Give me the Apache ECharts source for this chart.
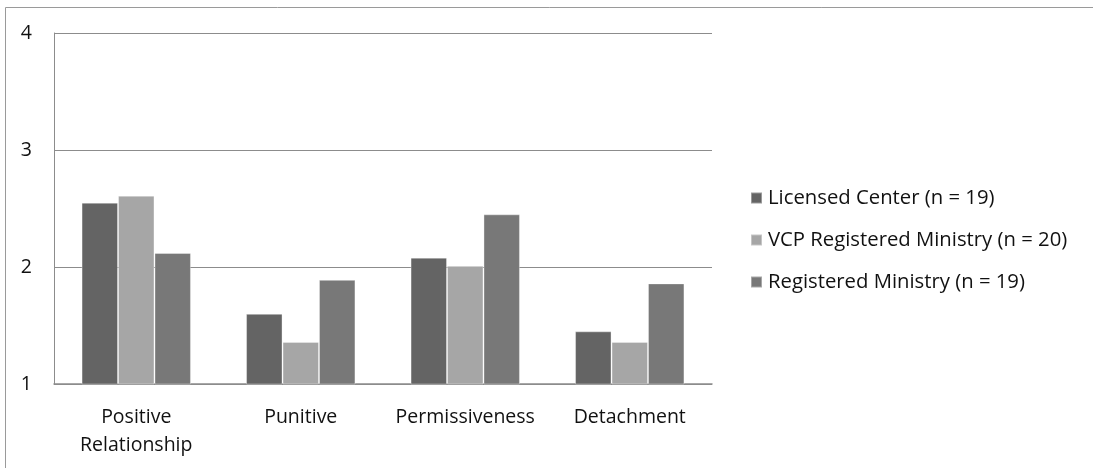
<!DOCTYPE html>
<html>
<head>
<meta charset="utf-8">
<script src="https://cdn.jsdelivr.net/npm/echarts@6/dist/echarts.min.js"></script>
<style>
  html, body { margin: 0; padding: 0; background: #fff; }
  #chart { width: 1093px; height: 468px; }
</style>
</head>
<body>
<div id="chart"></div>
<script>
// Mean scale scores by program type
const categories = ['Positive\nRelationship', 'Punitive', 'Permissiveness', 'Detachment'];
const licensedCenter = [2.55, 1.60, 2.08, 1.45];
const vcpRegisteredMinistry = [2.61, 1.36, 2.01, 1.36];
const registeredMinistry = [2.12, 1.89, 2.45, 1.86];
const seriesNames = ['Licensed Center (n = 19)', 'VCP Registered Ministry (n = 20)', 'Registered Ministry (n = 19)'];
const yTicks = { min: 1, max: 4, interval: 1 };

const FONT = '"Open Sans", "Noto Sans", sans-serif';
const TEXT = '#111';
const colors = ['#646464', '#a6a6a6', '#787878'];

const chart = echarts.init(document.getElementById('chart'), null, { renderer: 'canvas' });

function bar(name, data, color) {
  return {
    name, type: 'bar', data,
    barGap: '0%', barCategoryGap: '33.5%',
    itemStyle: { color, borderColor: 'rgba(255,255,255,0.35)', borderWidth: 1 }
  };
}

chart.setOption({
  animation: false,
  color: colors,
  textStyle: { fontFamily: FONT, color: TEXT },
  graphic: [{
    type: 'polyline',
    shape: { points: [[5.5, 468], [5.5, 7.5], [1093, 7.5]] },
    style: { stroke: '#9a9a9a', lineWidth: 1, fill: null }
  }],
  grid: { left: 54, right: 381, top: 33, bottom: 84, containLabel: false },
  legend: {
    orient: 'vertical', left: 750, top: 188, padding: 0,
    itemWidth: 11, itemHeight: 11, itemGap: 22,
    icon: 'rect',
    textStyle: { fontFamily: FONT, fontSize: 20.3, lineHeight: 20, color: TEXT, padding: [0, 0, 0, 1] },
    data: seriesNames
  },
  xAxis: {
    type: 'category', data: categories,
    axisLine: { lineStyle: { color: '#8c8c8c', width: 1.5 } },
    axisTick: { show: false },
    axisLabel: { interval: 0, fontFamily: FONT, fontSize: 19.5, color: TEXT, margin: 19, lineHeight: 28 }
  },
  yAxis: {
    type: 'value', min: yTicks.min, max: yTicks.max, interval: yTicks.interval,
    axisLine: { show: true, lineStyle: { color: '#8c8c8c', width: 1 } },
    axisTick: { show: false },
    splitLine: { lineStyle: { color: '#8c8c8c', width: 1 } },
    axisLabel: { fontFamily: FONT, fontSize: 19.5, color: TEXT, margin: 22, align: 'right' }
  },
  series: [
    bar(seriesNames[0], licensedCenter, colors[0]),
    bar(seriesNames[1], vcpRegisteredMinistry, colors[1]),
    bar(seriesNames[2], registeredMinistry, colors[2])
  ]
});
</script>
</body>
</html>
